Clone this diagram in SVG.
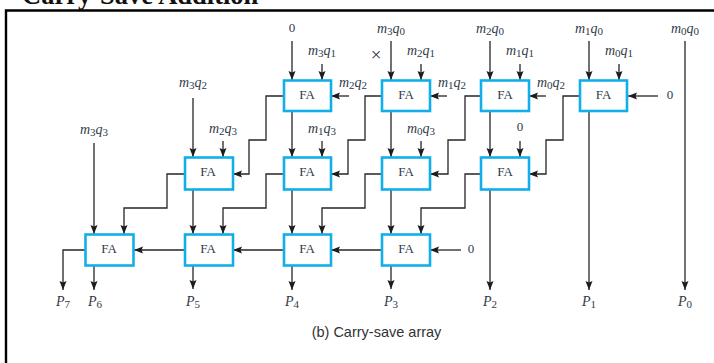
<svg xmlns="http://www.w3.org/2000/svg" width="714" height="363" viewBox="0 0 714 363">
<style>
.fa{fill:#fff;stroke:#12aeea;stroke-width:2.6}
.fal{font:13px "Liberation Serif",serif;fill:#2f3a4a;text-anchor:middle}
.c path{fill:none;stroke:#262626;stroke-width:1.3}
.l{font:italic 14px "Liberation Serif",serif;fill:#2f3a4a;text-anchor:middle}
.l tspan{font-size:11px;font-style:normal}
.l tspan.b{font-size:14px;font-style:italic}
.n{font:13px "Liberation Serif",serif;fill:#2f3a4a;text-anchor:middle}
</style>
<defs><marker id="a" markerUnits="userSpaceOnUse" markerWidth="9" markerHeight="8" refX="9" refY="4" orient="auto"><path d="M0,0.500L9,4L0,7.500L1.500,4Z" fill="#1c1c1c"/></marker></defs>
<rect width="714" height="363" fill="#fff"/>
<path d="M6,363V10.500H714" fill="none" stroke="#000" stroke-width="2.400"/>
<text x="22" y="4" font-family="Liberation Serif,serif" font-weight="bold" font-size="26.500" fill="#111">Carry-Save Addition</text>
<g class="c" id="connectors">
<path marker-end="url(#a)" d="M292,41V80"/><path marker-end="url(#a)" d="M391,41V80"/><path marker-end="url(#a)" d="M490,41V80"/><path marker-end="url(#a)" d="M589,41V80"/>
<path marker-end="url(#a)" d="M322,64V80"/><path marker-end="url(#a)" d="M421,64V80"/><path marker-end="url(#a)" d="M520,64V80"/><path marker-end="url(#a)" d="M619,64V80"/>
<path marker-end="url(#a)" d="M349,96H331"/><path marker-end="url(#a)" d="M447,96H430"/><path marker-end="url(#a)" d="M546,96H529"/><path marker-end="url(#a)" d="M658,96H628"/>
<path marker-end="url(#a)" d="M284,96H266V140H249V174H233"/><path marker-end="url(#a)" d="M381,96H365V140H348V174H331"/><path marker-end="url(#a)" d="M481,96H465V140H448V174H430"/><path marker-end="url(#a)" d="M580,96H563V140H546V174H529"/>
<path marker-end="url(#a)" d="M292,111V157"/><path marker-end="url(#a)" d="M391,111V157"/><path marker-end="url(#a)" d="M490,111V157"/>
<path marker-end="url(#a)" d="M589,111V290"/><path marker-end="url(#a)" d="M685,41V290"/><path marker-end="url(#a)" d="M490,190V290"/>
<path marker-end="url(#a)" d="M193,98V157"/><path marker-end="url(#a)" d="M223,141V157"/><path marker-end="url(#a)" d="M322,141V157"/><path marker-end="url(#a)" d="M421,141V157"/><path marker-end="url(#a)" d="M520,141V157"/>
<path marker-end="url(#a)" d="M94,143V234"/>
<path marker-end="url(#a)" d="M184,174H167V208H124V234"/><path marker-end="url(#a)" d="M284,174H266V208H223V234"/><path marker-end="url(#a)" d="M381,174H365V208H322V234"/><path marker-end="url(#a)" d="M481,174H465V208H421V234"/>
<path marker-end="url(#a)" d="M193,190V234"/><path marker-end="url(#a)" d="M292,190V234"/><path marker-end="url(#a)" d="M391,190V234"/>
<path marker-end="url(#a)" d="M184,250H134"/><path marker-end="url(#a)" d="M284,250H233"/><path marker-end="url(#a)" d="M381,250H331"/><path marker-end="url(#a)" d="M461,250H430"/>
<path marker-end="url(#a)" d="M85,250H63V290"/><path marker-end="url(#a)" d="M94,266V290"/><path marker-end="url(#a)" d="M193,266V289"/><path marker-end="url(#a)" d="M292,266V290"/><path marker-end="url(#a)" d="M391,266V289"/>
</g>
<g id="fa-1-1"><rect class="fa" x="284" y="80.500" width="47" height="30.500"/><text class="fal" x="307" y="99">FA</text></g>
<g id="fa-1-2"><rect class="fa" x="382" y="80.500" width="48" height="30.500"/><text class="fal" x="406" y="99">FA</text></g>
<g id="fa-1-3"><rect class="fa" x="481" y="80.500" width="48" height="30.500"/><text class="fal" x="505" y="99">FA</text></g>
<g id="fa-1-4"><rect class="fa" x="580" y="80.500" width="47" height="30.500"/><text class="fal" x="603.500" y="99">FA</text></g>
<g id="fa-2-1"><rect class="fa" x="185" y="157.500" width="48" height="32"/><text class="fal" x="208" y="176">FA</text></g>
<g id="fa-2-2"><rect class="fa" x="284" y="157.500" width="47" height="32"/><text class="fal" x="307" y="176">FA</text></g>
<g id="fa-2-3"><rect class="fa" x="382" y="157.500" width="48" height="32"/><text class="fal" x="406" y="176">FA</text></g>
<g id="fa-2-4"><rect class="fa" x="481" y="157.500" width="48" height="32"/><text class="fal" x="505" y="176">FA</text></g>
<g id="fa-3-1"><rect class="fa" x="85.500" y="234.500" width="48" height="31"/><text class="fal" x="109" y="253">FA</text></g>
<g id="fa-3-2"><rect class="fa" x="185" y="234.500" width="48" height="31"/><text class="fal" x="208" y="253">FA</text></g>
<g id="fa-3-3"><rect class="fa" x="284" y="234.500" width="47" height="31"/><text class="fal" x="307" y="253">FA</text></g>
<g id="fa-3-4"><rect class="fa" x="382" y="234.500" width="48" height="31"/><text class="fal" x="406" y="253">FA</text></g>
<g id="labels">
<text class="n" x="292" y="32">0</text>
<text class="n" x="376" y="61" style="font-size:19px">×</text>
<text class="n" x="520" y="131">0</text>
<text class="n" x="670" y="99">0</text>
<text class="n" x="471" y="253">0</text>
<text class="l" x="391" y="33">m<tspan dy="2">3</tspan><tspan class="b" dy="-2">q</tspan><tspan dy="2">0</tspan></text>
<text class="l" x="490" y="33">m<tspan dy="2">2</tspan><tspan class="b" dy="-2">q</tspan><tspan dy="2">0</tspan></text>
<text class="l" x="589" y="33">m<tspan dy="2">1</tspan><tspan class="b" dy="-2">q</tspan><tspan dy="2">0</tspan></text>
<text class="l" x="685" y="33">m<tspan dy="2">0</tspan><tspan class="b" dy="-2">q</tspan><tspan dy="2">0</tspan></text>
<text class="l" x="322" y="55">m<tspan dy="2">3</tspan><tspan class="b" dy="-2">q</tspan><tspan dy="2">1</tspan></text>
<text class="l" x="421" y="55">m<tspan dy="2">2</tspan><tspan class="b" dy="-2">q</tspan><tspan dy="2">1</tspan></text>
<text class="l" x="520" y="55">m<tspan dy="2">1</tspan><tspan class="b" dy="-2">q</tspan><tspan dy="2">1</tspan></text>
<text class="l" x="619" y="55">m<tspan dy="2">0</tspan><tspan class="b" dy="-2">q</tspan><tspan dy="2">1</tspan></text>
<text class="l" x="353" y="87">m<tspan dy="2">2</tspan><tspan class="b" dy="-2">q</tspan><tspan dy="2">2</tspan></text>
<text class="l" x="452" y="87">m<tspan dy="2">1</tspan><tspan class="b" dy="-2">q</tspan><tspan dy="2">2</tspan></text>
<text class="l" x="551" y="87">m<tspan dy="2">0</tspan><tspan class="b" dy="-2">q</tspan><tspan dy="2">2</tspan></text>
<text class="l" x="193" y="87">m<tspan dy="2">3</tspan><tspan class="b" dy="-2">q</tspan><tspan dy="2">2</tspan></text>
<text class="l" x="223" y="133">m<tspan dy="2">2</tspan><tspan class="b" dy="-2">q</tspan><tspan dy="2">3</tspan></text>
<text class="l" x="322" y="133">m<tspan dy="2">1</tspan><tspan class="b" dy="-2">q</tspan><tspan dy="2">3</tspan></text>
<text class="l" x="421" y="133">m<tspan dy="2">0</tspan><tspan class="b" dy="-2">q</tspan><tspan dy="2">3</tspan></text>
<text class="l" x="94" y="134">m<tspan dy="2">3</tspan><tspan class="b" dy="-2">q</tspan><tspan dy="2">3</tspan></text>
<text class="l" x="63" y="306">P<tspan dy="2">7</tspan></text>
<text class="l" x="95" y="306">P<tspan dy="2">6</tspan></text>
<text class="l" x="193" y="306">P<tspan dy="2">5</tspan></text>
<text class="l" x="292" y="306">P<tspan dy="2">4</tspan></text>
<text class="l" x="391" y="306">P<tspan dy="2">3</tspan></text>
<text class="l" x="490" y="306">P<tspan dy="2">2</tspan></text>
<text class="l" x="589" y="306">P<tspan dy="2">1</tspan></text>
<text class="l" x="685" y="306">P<tspan dy="2">0</tspan></text>
<text x="376.500" y="336.500" font-family="Liberation Sans,sans-serif" font-size="14.500" fill="#333" text-anchor="middle">(b) Carry-save array</text>
</g>
</svg>
